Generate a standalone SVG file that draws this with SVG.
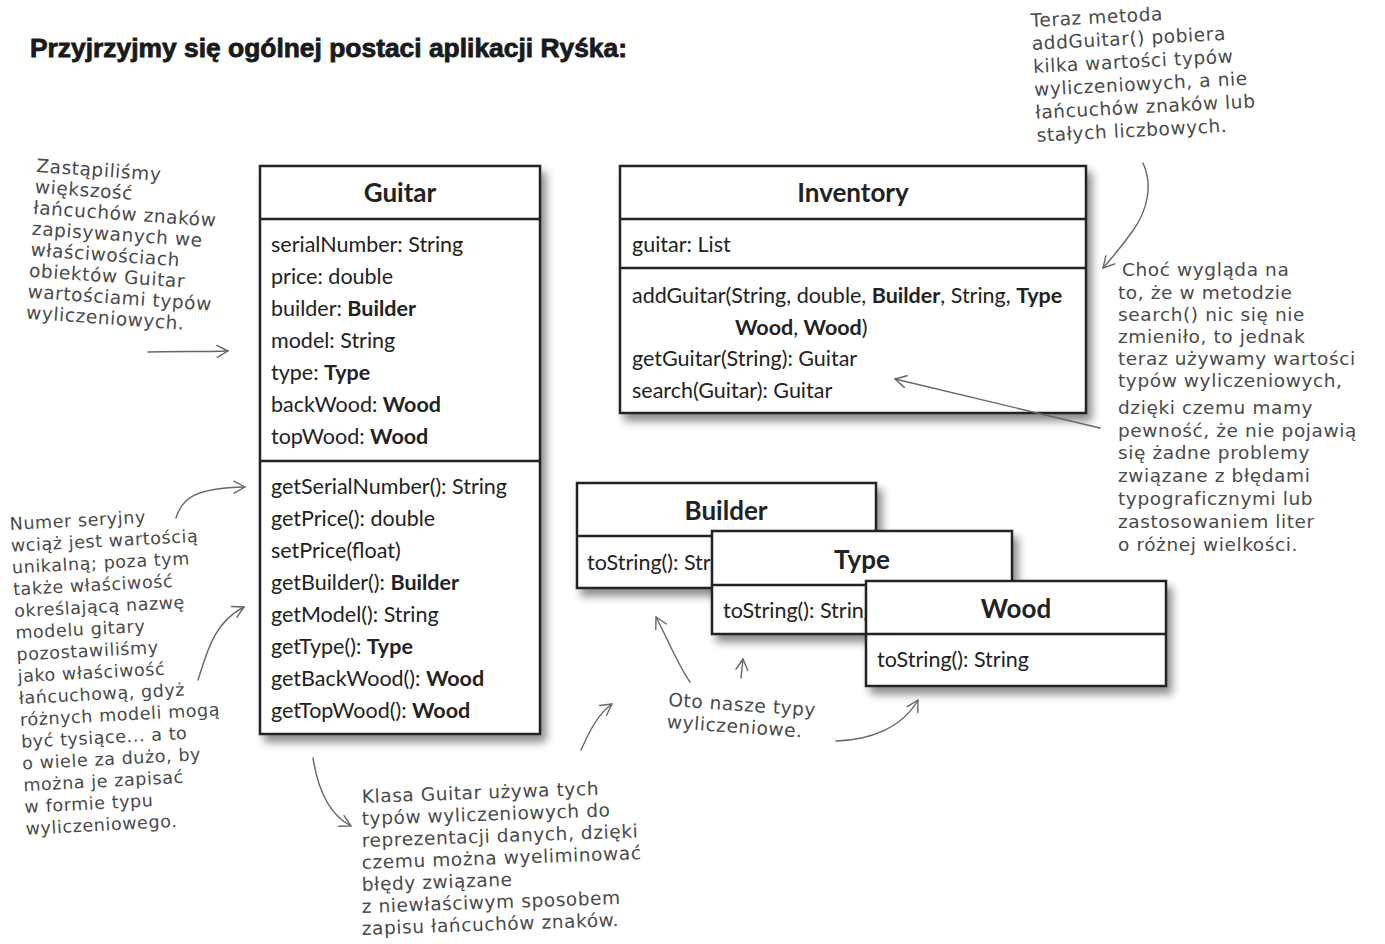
<svg xmlns="http://www.w3.org/2000/svg" width="1385" height="944" viewBox="0 0 1385 944">
<defs>
<filter id="sh" x="-10%" y="-10%" width="125%" height="130%">
<feDropShadow dx="5" dy="7" stdDeviation="4" flood-color="#000" flood-opacity="0.45"/>
</filter>
<marker id="ah" viewBox="0 0 14 14" refX="12" refY="7" markerWidth="14" markerHeight="14" markerUnits="userSpaceOnUse" orient="auto">
<path d="M1,1 L12,7 L1,13" fill="none" stroke="#666" stroke-width="1.4" stroke-linecap="round" stroke-linejoin="round"/>
</marker>
<style>
.box{fill:#fff;stroke:#222;stroke-width:2.5}
.div{stroke:#222;stroke-width:2.5}
.ttl{font-family:Lato,"Open Sans",sans-serif;font-weight:bold;font-size:26px;fill:#222;text-anchor:middle}
.mem{font-family:Lato,"Open Sans",sans-serif;font-size:21.5px;fill:#222}
.b{font-weight:bold}
.hw{font-family:"DejaVu Sans",sans-serif;font-size:18.5px;fill:#4a4a4a;letter-spacing:0.6px}
.hw.sm{font-size:17.5px}
.con{fill:none;stroke:#666;stroke-width:1.4;stroke-linecap:round;marker-end:url(#ah)}
</style>
</defs>
<rect width="1385" height="944" fill="#fff"/>

<text id="title" x="30" y="57" font-family="'Liberation Sans',sans-serif" font-weight="bold" font-size="25" fill="#1a1a1a" stroke="#1a1a1a" stroke-width="0.8" textLength="597" lengthAdjust="spacingAndGlyphs">Przyjrzyjmy się ogólnej postaci aplikacji Ryśka:</text>

<g id="guitar">
<rect class="box" x="260" y="166" width="280" height="568" filter="url(#sh)"/>
<line class="div" x1="260" y1="219" x2="540" y2="219"/>
<line class="div" x1="260" y1="461" x2="540" y2="461"/>
<text class="ttl" x="400" y="202">Guitar</text>
<text class="mem" x="271" y="252">serialNumber: String</text>
<text class="mem" x="271" y="284">price: double</text>
<text class="mem" x="271" y="316">builder: <tspan class="b">Builder</tspan></text>
<text class="mem" x="271" y="348">model: String</text>
<text class="mem" x="271" y="380">type: <tspan class="b">Type</tspan></text>
<text class="mem" x="271" y="412">backWood: <tspan class="b">Wood</tspan></text>
<text class="mem" x="271" y="444">topWood: <tspan class="b">Wood</tspan></text>
<text class="mem" x="271" y="494">getSerialNumber(): String</text>
<text class="mem" x="271" y="526">getPrice(): double</text>
<text class="mem" x="271" y="558">setPrice(float)</text>
<text class="mem" x="271" y="590">getBuilder(): <tspan class="b">Builder</tspan></text>
<text class="mem" x="271" y="622">getModel(): String</text>
<text class="mem" x="271" y="654">getType(): <tspan class="b">Type</tspan></text>
<text class="mem" x="271" y="686">getBackWood(): <tspan class="b">Wood</tspan></text>
<text class="mem" x="271" y="718">getTopWood(): <tspan class="b">Wood</tspan></text>
</g>

<g id="inventory">
<rect class="box" x="620" y="166" width="466" height="247" filter="url(#sh)"/>
<line class="div" x1="620" y1="219" x2="1086" y2="219"/>
<line class="div" x1="620" y1="268" x2="1086" y2="268"/>
<text class="ttl" x="853" y="202">Inventory</text>
<text class="mem" x="632" y="252">guitar: List</text>
<text class="mem" x="632" y="303">addGuitar(String, double, <tspan class="b">Builder</tspan>, String, <tspan class="b">Type</tspan></text>
<text class="mem" x="735" y="335"><tspan class="b">Wood</tspan>, <tspan class="b">Wood</tspan>)</text>
<text class="mem" x="632" y="366">getGuitar(String): Guitar</text>
<text class="mem" x="632" y="398">search(Guitar): Guitar</text>
</g>

<g id="builder">
<rect class="box" x="577" y="483" width="299" height="105" filter="url(#sh)"/>
<line class="div" x1="577" y1="536" x2="876" y2="536"/>
<text class="ttl" x="726" y="520">Builder</text>
<text class="mem" x="587" y="570">toString(): String</text>
</g>

<g id="type">
<rect class="box" x="712" y="531" width="300" height="103" filter="url(#sh)"/>
<line class="div" x1="712" y1="585" x2="1012" y2="585"/>
<text class="ttl" x="862" y="569">Type</text>
<text class="mem" x="723" y="618">toString(): String</text>
</g>

<g id="wood">
<rect class="box" x="866" y="581" width="300" height="105" filter="url(#sh)"/>
<line class="div" x1="866" y1="634" x2="1166" y2="634"/>
<text class="ttl" x="1016" y="618">Wood</text>
<text class="mem" x="877" y="667">toString(): String</text>
</g>

<g id="note-replaced" class="hw" transform="rotate(4 36 172)">
<text x="36" y="172">Zastąpiliśmy</text>
<text x="36" y="193">większość</text>
<text x="36" y="214">łańcuchów znaków</text>
<text x="36" y="235">zapisywanych we</text>
<text x="36" y="256">właściwościach</text>
<text x="36" y="277">obiektów Guitar</text>
<text x="36" y="298">wartościami typów</text>
<text x="36" y="319">wyliczeniowych.</text>
</g>

<g id="note-serial" class="hw sm" transform="rotate(-3 10 530)">
<text x="10" y="530">Numer seryjny</text>
<text x="10" y="551.8">wciąż jest wartością</text>
<text x="10" y="573.6">unikalną; poza tym</text>
<text x="10" y="595.4">także właściwość</text>
<text x="10" y="617.2">określającą nazwę</text>
<text x="10" y="639">modelu gitary</text>
<text x="10" y="660.8">pozostawiliśmy</text>
<text x="10" y="682.6">jako właściwość</text>
<text x="10" y="704.4">łańcuchową, gdyż</text>
<text x="10" y="726.2">różnych modeli mogą</text>
<text x="10" y="748">być tysiące... a to</text>
<text x="10" y="769.8">o wiele za dużo, by</text>
<text x="10" y="791.6">można je zapisać</text>
<text x="10" y="813.4">w formie typu</text>
<text x="10" y="835.2">wyliczeniowego.</text>
</g>

<g id="note-addguitar" class="hw" transform="rotate(-3 1031 27)">
<text x="1031" y="27">Teraz metoda</text>
<text x="1031" y="50">addGuitar() pobiera</text>
<text x="1031" y="73">kilka wartości typów</text>
<text x="1031" y="96">wyliczeniowych, a nie</text>
<text x="1031" y="119">łańcuchów znaków lub</text>
<text x="1031" y="142">stałych liczbowych.</text>
</g>

<g id="note-search" class="hw">
<text x="1122" y="276">Choć wygląda na</text>
<text x="1118" y="299">to, że w metodzie</text>
<text x="1118" y="321">search() nic się nie</text>
<text x="1118" y="343">zmieniło, to jednak</text>
<text x="1118" y="365">teraz używamy wartości</text>
<text x="1118" y="387">typów wyliczeniowych,</text>
<text x="1118" y="414">dzięki czemu mamy</text>
<text x="1118" y="437">pewność, że nie pojawią</text>
<text x="1118" y="459">się żadne problemy</text>
<text x="1118" y="482">związane z błędami</text>
<text x="1118" y="505">typograficznymi lub</text>
<text x="1118" y="528">zastosowaniem liter</text>
<text x="1118" y="551">o różnej wielkości.</text>
</g>

<g id="note-enums" class="hw" transform="rotate(4 668 706)">
<text x="668" y="706">Oto nasze typy</text>
<text x="668" y="728">wyliczeniowe.</text>
</g>

<g id="note-guitar-uses" class="hw">
<text x="362" y="803" transform="rotate(-2 362 803)">Klasa Guitar używa tych</text>
<text x="362" y="825" transform="rotate(-2 362 825)">typów wyliczeniowych do</text>
<text x="362" y="847" transform="rotate(-2 362 847)">reprezentacji danych, dzięki</text>
<text x="362" y="869" transform="rotate(-2 362 869)">czemu można wyeliminować</text>
<text x="362" y="891" transform="rotate(-2 362 891)">błędy związane</text>
<text x="362" y="913" transform="rotate(-2 362 913)">z niewłaściwym sposobem</text>
<text x="362" y="935" transform="rotate(-2 362 935)">zapisu łańcuchów znaków.</text>
</g>

<g id="connectors">
<path class="con" d="M148,352 C175,351 200,352 228,351"/>
<path class="con" d="M176,518 C182,498 195,488 245,487"/>
<path class="con" d="M198,680 C207,652 214,622 244,607"/>
<path class="con" d="M313,758 C318,790 330,815 351,826"/>
<path class="con" d="M581,750 C590,730 598,714 612,704"/>
<path class="con" d="M690,682 C678,665 668,640 656,617"/>
<path class="con" d="M741,678 L743,659"/>
<path class="con" d="M836,741 C870,740 902,728 918,700"/>
<path class="con" d="M1143,163 C1153,185 1148,210 1132,232 C1121,247 1112,258 1103,268"/>
<path class="con" d="M1100,428 L895,379"/>
</g>
</svg>
